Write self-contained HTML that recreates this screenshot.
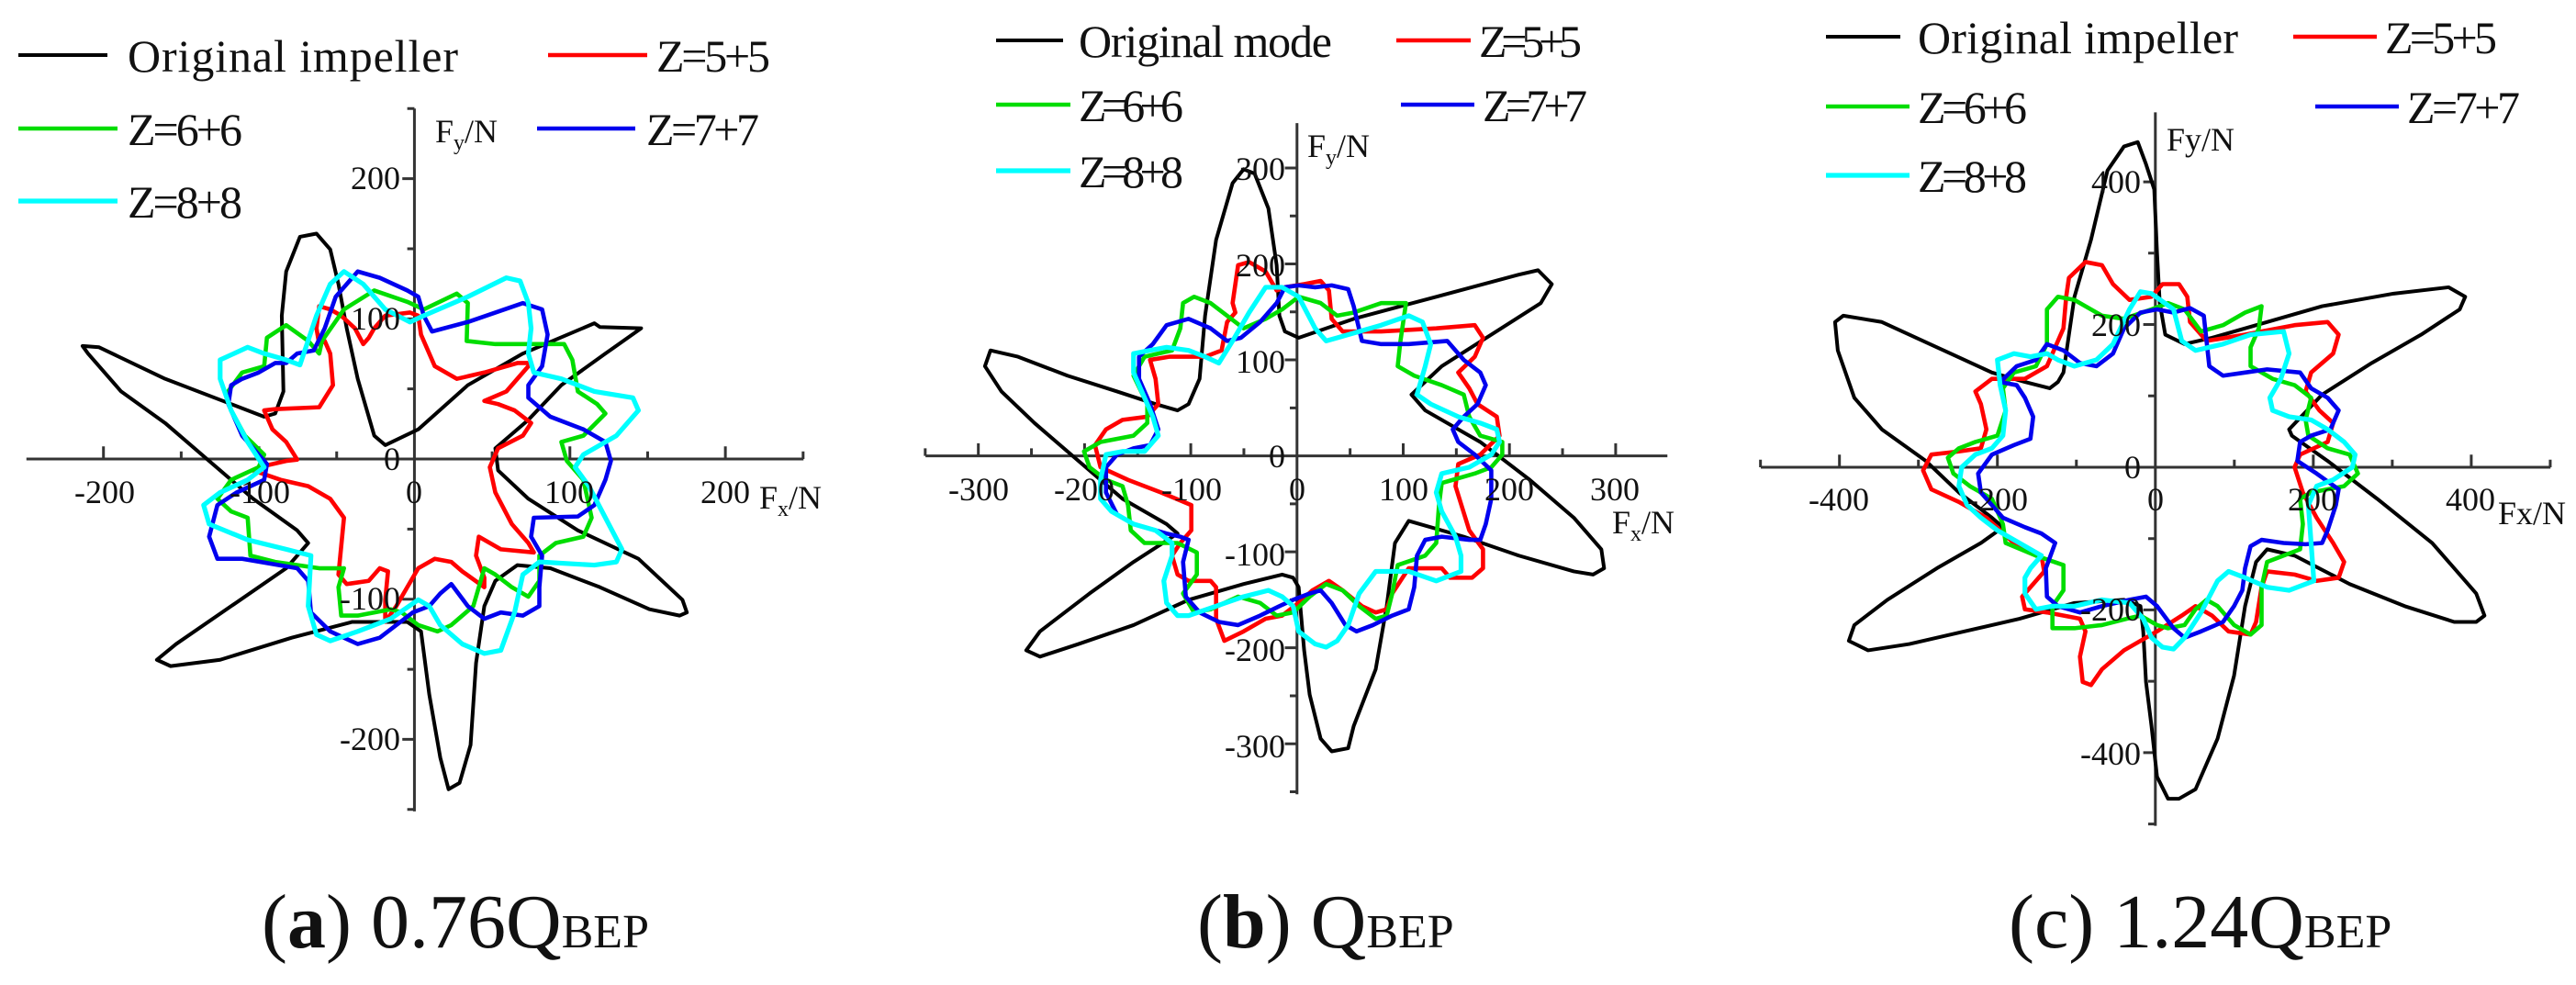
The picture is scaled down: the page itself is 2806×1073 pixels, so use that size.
<!DOCTYPE html>
<html><head><meta charset="utf-8"><style>
html,body{margin:0;padding:0;background:#fff;}
svg{display:block;}
svg text{font-family:"Liberation Serif","DejaVu Serif","Times New Roman",serif;fill:#111;}
.k{stroke:#000;stroke-width:4;fill:none;stroke-linejoin:round;vector-effect:non-scaling-stroke;}
.r{stroke:#f00;stroke-width:4.6;fill:none;stroke-linejoin:round;vector-effect:non-scaling-stroke;}
.g{stroke:#0d0;stroke-width:4.6;fill:none;stroke-linejoin:round;vector-effect:non-scaling-stroke;}
.b{stroke:#00e;stroke-width:4.6;fill:none;stroke-linejoin:round;vector-effect:non-scaling-stroke;}
.c{stroke:#0ff;stroke-width:5.2;fill:none;stroke-linejoin:round;vector-effect:non-scaling-stroke;}
.ax{stroke:#333;stroke-width:3;fill:none;vector-effect:non-scaling-stroke;}
.t{font-size:36px;}
.lg{font-size:50px;}
.cap{font-size:84px;}
</style></head><body>
<svg width="2806" height="1073" viewBox="0 0 2806 1073" xmlns="http://www.w3.org/2000/svg" font-family="Liberation Serif, DejaVu Serif, serif">
<!-- Panel a -->
<g transform="translate(0,0) scale(0.5995,0.6878)">
<path class="ax" id="axa" d=""/>
<polygon class="k" points="520,430 545,375 575,370 600,395 615,450 630,520 650,600 680,690 700,705 760,680 850,610 950,560 1080,512 1090,518 1165,520 1100,560 1020,610 960,665 900,710 905,745 960,790 1050,840 1160,885 1240,950 1248,970 1235,975 1180,965 1090,930 1000,900 940,895 900,920 880,960 865,1050 855,1180 835,1240 815,1250 800,1200 780,1100 765,1000 740,985 640,985 530,1010 400,1045 310,1055 285,1045 320,1020 420,960 520,900 560,860 540,840 460,790 380,730 300,670 220,620 160,560 150,548 180,550 300,600 420,640 480,660 500,655 515,620 512,500"/>
<polygon class="r" points="580,485 600,490 620,500 645,520 660,545 670,535 680,520 700,500 745,495 760,500 765,530 790,580 830,600 880,590 940,575 965,575 950,590 920,620 880,635 905,640 935,650 965,670 950,690 905,710 890,740 900,780 930,830 960,860 970,875 910,870 870,850 865,880 880,915 880,930 840,905 820,890 790,885 760,900 740,930 720,960 700,985 700,950 705,905 690,900 670,920 630,925 615,910 625,820 600,790 560,770 510,760 460,745 470,740 520,730 540,728 520,700 495,680 480,650 500,648 580,645 605,610 600,560 590,540 580,545 575,520"/>
<polygon class="g" points="410,625 440,590 480,580 485,535 520,515 560,540 580,560 585,540 625,490 680,460 740,478 770,490 830,465 850,480 848,540 900,545 960,545 1025,545 1040,570 1050,620 1085,640 1100,655 1060,690 1020,700 1030,730 1060,760 1075,820 1060,850 1010,860 980,880 980,920 960,945 930,930 900,910 880,900 860,960 820,990 795,1000 760,990 730,970 710,965 650,975 620,975 615,930 625,900 580,900 500,890 455,880 450,820 420,810 395,790 420,760 470,740 480,720 445,690 420,650"/>
<polygon class="b" points="420,610 440,600 470,590 500,575 520,575 540,560 570,555 590,520 610,470 650,430 690,440 740,460 760,470 770,500 785,525 850,510 950,480 985,490 995,530 985,580 960,610 960,630 1000,660 1060,680 1100,700 1110,730 1100,760 1080,800 1050,818 970,820 965,850 985,880 980,930 980,960 950,975 910,970 880,980 850,960 820,925 800,940 780,960 750,970 690,1010 650,1020 600,1000 565,970 560,920 540,900 440,885 395,885 380,850 395,800 430,780 480,760 485,735 440,690 415,640"/>
<polygon class="c" points="400,570 450,550 480,560 520,570 545,578 575,500 600,450 625,430 660,450 700,490 745,510 770,500 850,470 920,440 945,445 960,480 965,520 960,560 970,590 1020,600 1080,620 1150,630 1160,650 1120,690 1080,710 1060,720 1045,740 1070,770 1100,820 1130,870 1120,890 1080,895 980,890 950,910 935,970 910,1030 880,1035 840,1020 800,990 780,960 760,950 710,980 650,1000 600,1015 575,1005 560,960 565,880 520,870 450,855 380,830 370,800 400,780 450,760 480,740 450,700 420,650 400,600"/>
</g>
<!-- Panel b -->
<g transform="translate(935,0) scale(0.5995,0.6878)">
<path class="ax" id="axb" d=""/>
<polygon class="k" points="620,600 630,500 650,380 680,290 700,268 720,275 745,330 760,420 765,500 775,525 800,535 900,505 1050,470 1200,435 1235,428 1260,450 1240,480 1150,530 1060,580 1005,625 1030,650 1130,700 1220,760 1300,820 1350,870 1355,900 1335,910 1300,905 1200,880 1100,850 1000,825 975,860 960,960 940,1060 900,1150 890,1185 860,1190 840,1170 820,1100 810,1030 800,930 790,915 770,910 700,925 600,950 500,990 400,1020 330,1040 305,1030 330,1000 420,940 500,890 580,845 560,830 480,790 400,730 320,670 260,620 230,580 240,555 290,565 380,595 470,620 540,640 580,650 600,640 615,610"/>
<polygon class="r" points="680,480 690,420 710,415 740,430 760,460 775,455 810,450 840,445 855,460 860,505 880,525 950,525 1050,520 1120,515 1135,535 1120,565 1090,590 1110,615 1125,640 1160,660 1165,690 1130,720 1090,735 1085,770 1110,840 1135,870 1135,900 1115,915 1075,915 1060,900 1000,900 970,940 960,965 940,970 915,960 880,935 855,920 825,935 800,955 770,975 740,980 700,1000 665,1015 650,980 650,930 640,920 600,920 580,910 570,880 585,860 605,840 605,800 550,780 490,760 440,740 430,705 450,680 480,665 525,660 545,640 540,600 530,570 565,565 630,565 660,555 670,510 685,495"/>
<polygon class="g" points="590,480 610,470 640,480 670,500 700,520 740,505 770,490 800,470 840,480 870,500 900,495 950,480 995,480 985,540 980,580 1010,595 1060,610 1100,625 1110,660 1130,690 1170,700 1170,720 1150,740 1120,750 1080,760 1060,765 1055,800 1050,860 1030,880 980,895 970,940 960,975 940,980 910,960 880,935 850,925 820,945 790,970 760,975 730,955 690,945 640,965 610,970 590,940 615,910 615,875 580,860 520,860 495,840 490,800 480,770 450,760 420,740 410,715 440,700 500,690 525,670 525,640 500,595 520,565 570,555 585,520"/>
<polygon class="b" points="510,565 535,545 560,515 600,505 640,520 670,540 695,535 730,510 760,480 775,455 800,452 830,455 860,452 890,458 900,485 915,540 950,545 1000,545 1070,540 1100,570 1130,590 1140,610 1125,640 1100,660 1080,680 1090,700 1120,720 1150,745 1150,790 1140,830 1130,855 1110,855 1060,850 1030,855 1015,880 1010,930 1000,965 970,975 935,990 905,1000 885,990 860,955 840,935 820,940 790,950 765,960 730,975 690,990 655,985 620,970 595,945 590,890 600,855 585,850 560,845 500,830 470,815 450,780 450,740 470,720 500,710 530,705 545,680 530,640 510,600"/>
<polygon class="c" points="500,560 530,555 560,550 600,555 630,565 655,575 680,540 710,495 740,455 770,455 800,470 830,520 850,540 870,535 910,525 950,515 1000,500 1025,510 1040,545 1030,580 1015,625 1040,640 1090,660 1130,670 1160,680 1165,700 1150,720 1110,740 1060,750 1050,780 1060,810 1085,850 1095,880 1095,905 1050,920 1000,905 940,905 910,940 890,990 870,1015 850,1025 830,1020 800,1000 790,960 770,945 745,935 700,945 650,960 600,975 580,975 560,955 555,920 570,880 570,860 540,840 500,830 460,810 440,790 440,760 450,720 480,715 520,715 545,690 535,660 515,620 500,590"/>
</g>
<!-- Panel c -->
<g transform="translate(1870,0) scale(0.5995,0.6878)">
<path class="ax" id="axc" d=""/>
<polygon class="k" points="630,590 650,470 680,380 710,270 740,232 765,225 780,260 795,300 800,400 805,480 815,530 850,545 900,535 1000,510 1100,485 1230,465 1330,455 1360,470 1350,490 1280,530 1190,575 1100,625 1040,680 1045,690 1110,730 1200,790 1300,860 1380,940 1395,975 1380,985 1340,985 1250,960 1150,925 1050,880 1000,870 980,890 960,960 940,1070 910,1170 870,1250 840,1265 820,1265 800,1230 790,1150 780,1080 775,1000 770,960 740,950 650,955 550,980 450,1000 350,1020 275,1030 240,1015 250,990 310,950 400,900 480,860 520,835 500,820 440,780 380,730 300,680 250,630 220,555 215,510 230,500 300,510 400,550 500,590 560,605 605,615 620,605"/>
<polygon class="r" points="640,440 670,415 700,420 720,450 750,475 790,470 810,450 840,450 855,470 860,510 890,540 960,530 1050,515 1110,510 1130,530 1120,560 1080,590 1070,620 1095,650 1120,670 1110,700 1060,720 1050,740 1065,780 1090,820 1120,860 1140,890 1130,915 1090,920 1050,910 1000,905 990,930 980,985 970,1005 930,1000 900,975 870,960 845,975 800,1000 740,1030 700,1060 680,1085 665,1080 660,1040 670,1000 660,980 600,970 560,965 555,945 575,925 595,905 590,880 540,860 490,820 440,795 390,775 375,745 390,720 440,715 480,710 490,680 480,640 470,620 500,600 560,600 600,580 630,520 635,470"/>
<polygon class="g" points="600,490 620,470 650,475 700,500 740,505 790,490 820,480 850,490 880,525 920,515 960,495 990,485 985,520 970,550 970,580 1010,600 1050,610 1080,630 1070,665 1075,690 1110,710 1150,720 1165,750 1140,770 1110,775 1080,780 1060,790 1065,830 1060,870 1030,880 1000,890 990,930 990,990 970,1005 940,990 910,960 890,950 870,965 850,990 820,995 800,990 770,975 745,980 700,990 650,995 610,995 610,960 630,935 630,895 580,880 525,860 520,830 500,790 460,770 430,750 420,725 440,710 470,700 510,690 525,650 520,615 540,590 580,580 600,545"/>
<polygon class="b" points="515,605 545,580 580,570 600,545 630,555 660,575 690,580 720,560 740,520 770,495 800,490 830,495 860,488 885,500 890,540 895,580 920,595 960,590 1000,585 1060,590 1080,615 1110,630 1130,650 1115,680 1080,690 1060,700 1055,730 1090,750 1130,775 1125,800 1110,840 1100,860 1070,862 1030,860 990,855 970,865 960,900 955,935 940,960 920,985 880,1000 850,1010 830,995 800,960 780,945 750,950 700,960 660,970 620,960 600,945 598,900 615,860 590,845 560,835 520,820 480,780 475,750 500,720 540,705 570,695 575,660 560,630 545,610"/>
<polygon class="c" points="510,570 540,560 570,565 600,560 620,570 650,580 690,570 720,545 750,490 770,462 790,465 830,490 845,540 870,555 920,545 970,530 1030,525 1040,560 1025,600 1005,630 1010,650 1040,660 1080,665 1110,680 1140,700 1160,720 1155,740 1120,760 1090,770 1075,800 1080,860 1085,920 1040,935 1000,930 960,915 930,905 910,920 880,970 850,1010 830,1028 810,1025 790,1010 775,980 750,955 700,950 650,960 610,960 580,965 560,940 560,915 570,900 590,880 550,860 510,840 480,820 455,800 440,770 445,740 470,720 500,710 520,690 525,650 515,610"/>
</g>

<!-- Tick labels a -->
<g class="t" text-anchor="middle">
<text x="114" y="548">-200</text><text x="283" y="548">-100</text><text x="451" y="548">0</text><text x="620" y="548">100</text><text x="790" y="548">200</text>
</g>
<g class="t" text-anchor="end">
<text x="436" y="206">200</text><text x="436" y="359">100</text><text x="436" y="512">0</text><text x="436" y="664">-100</text><text x="436" y="817">-200</text>
</g>
<text class="t" x="827" y="554">F<tspan font-size="24" dy="8">x</tspan><tspan dy="-8">/N</tspan></text>
<text class="t" x="474" y="155">F<tspan font-size="24" dy="8">y</tspan><tspan dy="-8">/N</tspan></text>
<!-- Tick labels b -->
<g class="t" text-anchor="middle">
<text x="1066" y="545">-300</text><text x="1181" y="545">-200</text><text x="1298" y="545">-100</text><text x="1413" y="545">0</text><text x="1529" y="545">100</text><text x="1644" y="545">200</text><text x="1759" y="545">300</text>
</g>
<g class="t" text-anchor="end">
<text x="1400" y="196">300</text><text x="1400" y="301">200</text><text x="1400" y="406">100</text><text x="1400" y="509">0</text><text x="1400" y="616">-100</text><text x="1400" y="720">-200</text><text x="1400" y="825">-300</text>
</g>
<text class="t" x="1756" y="581">F<tspan font-size="24" dy="8">x</tspan><tspan dy="-8">/N</tspan></text>
<text class="t" x="1424" y="171">F<tspan font-size="24" dy="8">y</tspan><tspan dy="-8">/N</tspan></text>
<!-- Tick labels c -->
<g class="t" text-anchor="middle">
<text x="2003" y="556">-400</text><text x="2176" y="556">-200</text><text x="2348" y="556">0</text><text x="2519" y="556">200</text><text x="2691" y="556">400</text>
</g>
<g class="t" text-anchor="end">
<text x="2332" y="210">400</text><text x="2332" y="366">200</text><text x="2332" y="521">0</text><text x="2332" y="676">-200</text><text x="2332" y="833">-400</text>
</g>
<text class="t" x="2721" y="571">Fx/N</text>
<text class="t" x="2360" y="164">Fy/N</text>

<!-- Legends -->
<g>
<line class="k" x1="20" y1="60" x2="117" y2="60"/><text class="lg" x="139" y="78" textLength="360">Original impeller</text>
<line class="r" x1="597" y1="60" x2="705" y2="60"/><text class="lg" x="715" y="78" textLength="124">Z=5+5</text>
<line class="g" x1="20" y1="140" x2="128" y2="140"/><text class="lg" x="139" y="158" textLength="125">Z=6+6</text>
<line class="b" x1="585" y1="140" x2="692" y2="140"/><text class="lg" x="704" y="158" textLength="123">Z=7+7</text>
<line class="c" x1="20" y1="219" x2="128" y2="219"/><text class="lg" x="139" y="237" textLength="125">Z=8+8</text>

<line class="k" x1="1085" y1="44" x2="1158" y2="44"/><text class="lg" x="1175" y="62" textLength="276">Original mode</text>
<line class="r" x1="1521" y1="44" x2="1602" y2="44"/><text class="lg" x="1611" y="62" textLength="112">Z=5+5</text>
<line class="g" x1="1085" y1="114" x2="1166" y2="114"/><text class="lg" x="1175" y="132" textLength="114">Z=6+6</text>
<line class="b" x1="1526" y1="114" x2="1606" y2="114"/><text class="lg" x="1615" y="132" textLength="114">Z=7+7</text>
<line class="c" x1="1085" y1="186" x2="1166" y2="186"/><text class="lg" x="1175" y="204" textLength="114">Z=8+8</text>

<line class="k" x1="1989" y1="40" x2="2070" y2="40"/><text class="lg" x="2089" y="58" textLength="349">Original impeller</text>
<line class="r" x1="2498" y1="40" x2="2589" y2="40"/><text class="lg" x="2598" y="58" textLength="122">Z=5+5</text>
<line class="g" x1="1989" y1="116" x2="2080" y2="116"/><text class="lg" x="2089" y="134" textLength="119">Z=6+6</text>
<line class="b" x1="2522" y1="116" x2="2613" y2="116"/><text class="lg" x="2622" y="134" textLength="123">Z=7+7</text>
<line class="c" x1="1989" y1="191" x2="2080" y2="191"/><text class="lg" x="2089" y="209" textLength="119">Z=8+8</text>
</g>

<!-- Captions -->
<text class="cap" x="285" y="1032">(<tspan font-weight="bold">a</tspan>) 0.76Q<tspan font-size="52">BEP</tspan></text>
<text class="cap" x="1304" y="1032">(<tspan font-weight="bold">b</tspan>) Q<tspan font-size="52">BEP</tspan></text>
<text class="cap" x="2188" y="1032">(c) 1.24Q<tspan font-size="52">BEP</tspan></text>
</svg>
<script>
function axes(id,ay,x0,x1,ox,pxX,stepX,ax,y0,y1,oy,pxY,stepY,majX,majY){
 var d="M"+x0+" "+ay+"H"+x1+"M"+ax+" "+y0+"V"+y1;
 for(var v=-1000;v<=1000;v+=stepX){var x=ox+v*pxX;if(x<x0-1||x>x1+1)continue;var L=(Math.abs(v)%majX===0)?20:12;d+="M"+x+" "+ay+"v"+(-L);}
 for(var v=-1000;v<=1000;v+=stepY){var y=oy-v*pxY;if(y<y0-1||y>y1+1)continue;var L=(Math.abs(v)%majY===0)?22:13;d+="M"+ax+" "+y+"h"+(-L);}
 document.getElementById(id).setAttribute("d",d);
}
axes("axa",727,48,1460,753,2.825,50,753,172,1285,727,2.22,50,100,100);
axes("axb",722,122,1470,797,1.93,50,797,195,1258,722,1.52,50,100,100);
axes("axc",740,80,1515,797,1.435,100,797,178,1308,740,1.13,100,200,200);
</script>
</body></html>
